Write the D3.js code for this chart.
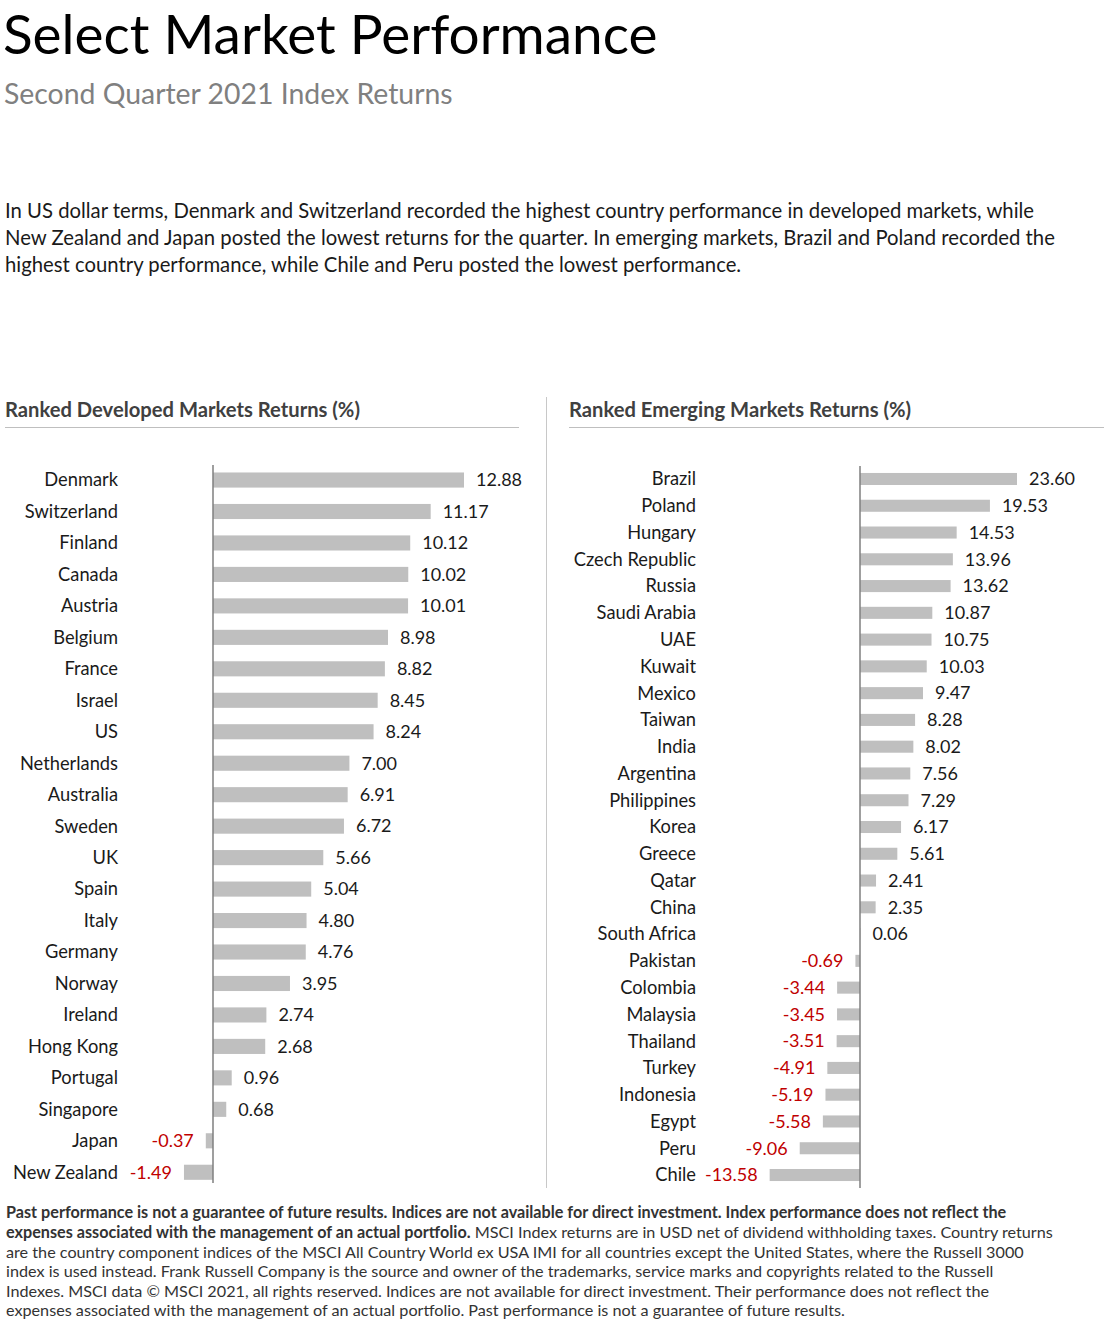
<!DOCTYPE html>
<html>
<head>
<meta charset="utf-8">
<script src="https://cdn.jsdelivr.net/npm/d3@7/dist/d3.min.js"></script>
<style>
  html, body { margin: 0; padding: 0; background: #fff; }
  svg { display: block; font-family: Lato, "Open Sans", sans-serif; }
</style>
</head>
<body>
<svg id="chart" width="1112" height="1326"></svg>
<script>
const titleText = "Select Market Performance";
const subtitleText = "Second Quarter 2021 Index Returns";
const introLines = [
  "In US dollar terms, Denmark and Switzerland recorded the highest country performance in developed markets, while",
  "New Zealand and Japan posted the lowest returns for the quarter. In emerging markets, Brazil and Poland recorded the",
  "highest country performance, while Chile and Peru posted the lowest performance."
];
const devTitle = "Ranked Developed Markets Returns (%)";
const emTitle = "Ranked Emerging Markets Returns (%)";

const devNames = ["Denmark","Switzerland","Finland","Canada","Austria","Belgium","France","Israel","US","Netherlands","Australia","Sweden","UK","Spain","Italy","Germany","Norway","Ireland","Hong Kong","Portugal","Singapore","Japan","New Zealand"];
const devValues = [12.88,11.17,10.12,10.02,10.01,8.98,8.82,8.45,8.24,7.00,6.91,6.72,5.66,5.04,4.80,4.76,3.95,2.74,2.68,0.96,0.68,-0.37,-1.49];

const emNames = ["Brazil","Poland","Hungary","Czech Republic","Russia","Saudi Arabia","UAE","Kuwait","Mexico","Taiwan","India","Argentina","Philippines","Korea","Greece","Qatar","China","South Africa","Pakistan","Colombia","Malaysia","Thailand","Turkey","Indonesia","Egypt","Peru","Chile"];
const emValues = [23.60,19.53,14.53,13.96,13.62,10.87,10.75,10.03,9.47,8.28,8.02,7.56,7.29,6.17,5.61,2.41,2.35,0.06,-0.69,-3.44,-3.45,-3.51,-4.91,-5.19,-5.58,-9.06,-13.58];

const footBold1 = "Past performance is not a guarantee of future results. Indices are not available for direct investment. Index performance does not reflect the";
const footBold2 = "expenses associated with the management of an actual portfolio.";
const footRest2 = " MSCI Index returns are in USD net of dividend withholding taxes. Country returns";
const footLines = [
  "are the country component indices of the MSCI All Country World ex USA IMI for all countries except the United States, where the Russell 3000",
  "index is used instead. Frank Russell Company is the source and owner of the trademarks, service marks and copyrights related to the Russell",
  "Indexes. MSCI data © MSCI 2021, all rights reserved. Indices are not available for direct investment. Their performance does not reflect the",
  "expenses associated with the management of an actual portfolio. Past performance is not a guarantee of future results."
];

const svg = d3.select("#chart");

svg.append("text").attr("x", 3).attr("y", 53.5).attr("font-size", 54.9).attr("fill", "#000").text(titleText);
svg.append("text").attr("x", 4).attr("y", 104).attr("font-size", 28.4).attr("fill", "#808080").text(subtitleText);

svg.append("g").selectAll("text").data(introLines).join("text")
  .attr("x", 5).attr("y", (d, i) => 218 + i * 27)
  .attr("font-size", 20.3).attr("fill", "#1a1a1a").text(d => d);

// separator
svg.append("line").attr("x1", 546.5).attr("x2", 546.5).attr("y1", 397).attr("y2", 1188)
  .attr("stroke", "#c8c8c8").attr("stroke-width", 1);

function panel(opts) {
  const g = svg.append("g");
  g.append("text").attr("x", opts.hx).attr("y", 417).attr("font-size", 20.2)
    .attr("font-weight", "bold").attr("fill", "#404040").text(opts.title);
  g.append("line").attr("x1", opts.hx).attr("x2", opts.hx2).attr("y1", 427.5).attr("y2", 427.5)
    .attr("stroke", "#bfbfbf").attr("stroke-width", 1.2);

  const x = d3.scaleLinear().domain(opts.domain).range(opts.range);
  const y = d3.scaleBand().domain(opts.names).range([opts.y0, opts.y1]).paddingInner(opts.pad).paddingOuter(opts.pad / 2);
  const bh = y.bandwidth();

  g.selectAll("rect").data(opts.values).join("rect")
    .attr("x", d => x(Math.min(0, d)))
    .attr("width", d => Math.abs(x(d) - x(0)))
    .attr("y", (d, i) => y(opts.names[i]))
    .attr("height", bh)
    .attr("fill", "#bfbfbf");

  g.append("line").attr("x1", x(0)).attr("x2", x(0)).attr("y1", opts.ay0).attr("y2", opts.ay1)
    .attr("stroke", "#7f7f7f").attr("stroke-width", 1.5);

  g.selectAll("text.cat").data(opts.names).join("text").attr("class", "cat")
    .attr("x", opts.labelX).attr("y", d => y(d) + bh / 2)
    .attr("dy", "0.35em").attr("text-anchor", "end")
    .attr("font-size", 18.3).attr("fill", "#1a1a1a").text(d => d);

  g.selectAll("text.val").data(opts.values).join("text").attr("class", "val")
    .attr("x", d => d >= 0 ? Math.max(x(d), x(0)) + 12 : x(d) - 12)
    .attr("y", (d, i) => y(opts.names[i]) + bh / 2)
    .attr("dy", "0.35em").attr("text-anchor", d => d >= 0 ? "start" : "end")
    .attr("font-size", 18).attr("fill", d => d >= 0 ? "#1a1a1a" : "#c00000")
    .text(d => d.toFixed(2));
}

panel({
  title: devTitle, hx: 5, hx2: 519,
  names: devNames, values: devValues,
  domain: [0, 12.88], range: [213, 464],
  y0: 464.3, y1: 1188, pad: 0.52,
  ay0: 465, ay1: 1183, labelX: 118
});

panel({
  title: emTitle, hx: 569, hx2: 1104,
  names: emNames, values: emValues,
  domain: [0, 23.60], range: [860, 1017],
  y0: 465.6, y1: 1188.4, pad: 0.55,
  ay0: 466, ay1: 1188, labelX: 696
});

// footnote
const foot = svg.append("g").attr("font-size", 16.2).attr("fill", "#333");
foot.append("text").attr("x", 6).attr("y", 1218).attr("font-weight", "bold").text(footBold1);
const t2 = foot.append("text").attr("x", 6).attr("y", 1238);
t2.append("tspan").attr("font-weight", "bold").text(footBold2);
t2.append("tspan").text(footRest2);
foot.selectAll("text.fl").data(footLines).join("text").attr("class", "fl")
  .attr("x", 6).attr("y", (d, i) => 1257.5 + i * 19.6).text(d => d);
</script>
</body>
</html>
